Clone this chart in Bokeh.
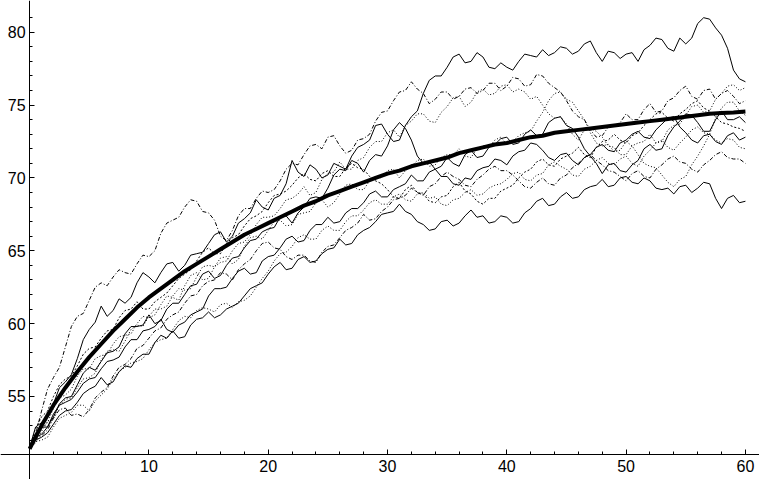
from bokeh.plotting import figure
from bokeh.models import Range1d, LinearAxis, FixedTicker
from bokeh.embed import file_html
from bokeh.resources import INLINE

# ---------------- data ----------------
# values at whole time steps 0..60 and at the half steps 0.5..59.5
time_whole = list(range(0, 61))
time_half = [i + 0.5 for i in range(0, 60)]

x_major_ticks = [10, 20, 30, 40, 50, 60]
x_minor_ticks = [2, 4, 6, 8, 12, 14, 16, 18, 22, 24, 26, 28, 32, 34, 36, 38,
                 42, 44, 46, 48, 52, 54, 56, 58]
y_major_ticks = [55, 60, 65, 70, 75, 80]
y_minor_ticks = [51, 52, 53, 54, 56, 57, 58, 59, 61, 62, 63, 64, 66, 67, 68, 69,
                 71, 72, 73, 74, 76, 77, 78, 79, 81]

mean_path = [
    51.4, 53.0, 54.4, 55.6, 56.7, 57.7, 58.6, 59.5, 60.3, 61.1,
    61.8, 62.4, 63.0, 63.6, 64.1, 64.6, 65.1, 65.6, 66.1, 66.5,
    66.9, 67.3, 67.7, 68.1, 68.4, 68.8, 69.1, 69.4, 69.7, 70.0,
    70.3, 70.5, 70.8, 71.0, 71.2, 71.4, 71.7, 71.9, 72.1, 72.3,
    72.4, 72.6, 72.8, 72.9, 73.1, 73.2, 73.3, 73.4, 73.5, 73.6,
    73.7, 73.8, 73.9, 74.0, 74.1, 74.2, 74.3, 74.4, 74.45, 74.5,
    74.56]

path_1 = [
    51.5, 53.2, 54.5, 56.0, 57.6, 59.6, 61.2, 60.9, 61.4, 62.8,
    63.2, 63.5, 64.2, 64.0, 64.8, 65.5, 66.3, 66.0, 67.2, 68.5,
    67.8, 68.8, 71.2, 70.1, 70.6, 70.2, 70.8, 71.5, 72.3, 73.6,
    73.0, 72.6, 74.2, 75.8, 77.0, 77.6, 78.5, 78.0, 78.3, 77.5,
    77.6, 78.0, 78.4, 78.8, 78.6, 78.9, 78.7, 79.4, 78.0, 78.6,
    78.5, 78.0, 79.1, 79.5, 78.7, 79.2, 80.6, 80.9, 79.8, 77.4,
    76.6]
path_1_half = [
    52.9, 53.6, 55.6, 56.5, 58.9, 60.1, 60.5, 61.7, 61.8, 63.5,
    62.8, 64.1, 63.6, 64.7, 64.9, 66.1, 65.6, 66.9, 67.6, 68.0,
    68.6, 69.6, 70.4, 70.9, 70.0, 71.0, 70.6, 72.1, 72.6, 73.7,
    72.5, 73.6, 74.6, 76.7, 77.0, 78.3, 77.9, 78.6, 77.6, 77.9,
    77.4, 78.5, 78.3, 78.4, 79.0, 78.5, 79.2, 78.6, 78.7, 78.2,
    78.6, 78.8, 79.6, 78.9, 79.6, 79.6, 81.0, 80.3, 78.9, 76.8]

path_2 = [
    51.5, 54.0, 56.3, 58.4, 60.5, 61.6, 62.8, 63.2, 63.5, 64.1,
    64.6, 66.2, 67.1, 68.0, 68.4, 67.6, 66.0, 66.4, 67.9, 68.6,
    69.0, 69.8, 71.0, 71.6, 72.3, 72.8, 72.2, 71.9, 72.7, 73.9,
    74.6, 75.9, 76.6, 75.8, 75.4, 75.9, 75.6, 76.2, 76.0, 76.5,
    76.3, 76.8, 76.4, 77.0, 76.2, 75.3, 74.2, 73.3, 72.9, 73.6,
    74.4, 74.0, 75.1, 74.6, 75.5, 76.3, 75.4, 76.1, 75.8, 75.6,
    75.3]
path_2_half = [
    52.4, 55.5, 57.0, 59.8, 60.7, 62.5, 62.6, 63.7, 63.4, 64.7,
    65.0, 66.9, 67.3, 68.5, 67.7, 67.1, 65.7, 67.4, 67.9, 69.1,
    69.2, 70.6, 70.9, 72.2, 72.0, 72.9, 71.7, 72.6, 73.0, 74.5,
    75.3, 76.0, 76.1, 75.1, 75.9, 75.4, 76.1, 75.8, 76.5, 76.0,
    76.9, 76.3, 77.1, 76.5, 75.9, 74.6, 74.0, 72.8, 73.5, 73.8,
    74.0, 74.7, 74.5, 75.3, 76.0, 75.6, 76.0, 75.4, 76.0, 75.1]

path_3 = [
    51.5, 52.8, 54.2, 55.1, 56.4, 56.9, 57.8, 58.6, 59.2, 60.0,
    60.4, 61.3, 61.8, 62.6, 63.5, 63.1, 64.2, 65.0, 65.6, 66.8,
    67.3, 67.9, 68.6, 69.4, 69.0, 70.3, 71.1, 70.6, 71.4, 72.5,
    73.1, 72.8, 73.9, 74.4, 73.8, 74.9, 75.6, 75.2, 76.1, 75.8,
    76.4, 76.1, 75.4, 75.0, 74.1, 73.7, 72.6, 73.4, 72.8, 72.1,
    71.6, 72.4, 73.0, 72.5, 73.6, 74.3, 75.0, 74.6, 75.8, 76.4,
    76.2]
path_3_half = [
    52.4, 53.2, 54.9, 55.5, 56.9, 57.6, 57.9, 59.1, 59.3, 60.5,
    60.6, 61.9, 61.6, 63.3, 63.0, 63.9, 64.3, 65.5, 66.1, 67.3,
    67.4, 68.5, 68.9, 68.8, 69.9, 70.4, 70.6, 71.2, 72.1, 72.5,
    73.3, 73.6, 74.4, 73.9, 74.5, 75.5, 74.9, 75.9, 75.7, 76.3,
    75.9, 75.9, 75.6, 74.4, 74.2, 73.0, 73.3, 73.2, 72.2, 71.6,
    72.2, 72.5, 72.4, 73.3, 73.7, 74.9, 74.5, 75.4, 76.3, 76.0]

path_4 = [
    51.5, 52.6, 53.5, 54.8, 55.6, 56.3, 57.5, 58.2, 58.8, 59.9,
    60.5, 61.0, 61.9, 62.3, 63.2, 64.0, 64.5, 64.1, 65.3, 66.0,
    66.4, 67.1, 66.8, 67.6, 68.3, 68.0, 68.9, 69.6, 69.2, 70.1,
    70.5, 70.0, 70.8, 71.3, 70.9, 71.6, 72.0, 71.4, 72.2, 72.6,
    72.3, 72.9, 73.2, 74.5, 75.8, 75.4, 74.6, 73.1, 72.2, 71.8,
    72.5, 71.6, 70.8, 70.2, 69.4, 70.1, 71.5, 73.0, 74.8, 75.2,
    74.3]
path_4_half = [
    51.8, 53.3, 54.4, 54.9, 56.2, 56.6, 58.1, 58.1, 59.6, 59.8,
    61.0, 61.2, 62.4, 62.4, 63.9, 63.9, 64.6, 64.4, 65.9, 65.8,
    67.0, 66.7, 67.5, 67.7, 68.5, 68.3, 69.5, 69.2, 69.8, 70.0,
    70.6, 70.5, 71.2, 70.8, 71.4, 71.6, 71.5, 72.0, 72.1, 72.8,
    72.5, 73.1, 73.9, 75.3, 75.9, 75.2, 74.0, 72.4, 72.3, 71.9,
    72.2, 71.0, 70.7, 69.7, 69.9, 70.9, 72.2, 74.1, 75.2, 74.6]

path_5 = [
    51.5, 52.9, 53.6, 54.9, 55.8, 57.0, 57.4, 58.1, 59.3, 59.8,
    60.6, 60.2, 61.4, 62.0, 62.7, 63.6, 63.3, 64.5, 65.2, 65.8,
    66.5, 67.3, 66.9, 68.0, 68.7, 69.3, 70.6, 71.2, 70.4, 71.6,
    72.2, 73.8, 72.6, 71.0, 70.6, 71.4, 70.8, 71.9, 71.5, 72.3,
    72.8, 72.4, 73.3, 73.0, 74.1, 73.6, 72.8, 71.5, 70.3, 71.0,
    70.4, 71.2, 72.3, 72.0, 73.5, 74.4, 73.8, 73.2, 74.6, 74.0,
    73.8]
path_5_half = [
    52.5, 52.9, 54.5, 55.0, 56.6, 56.8, 58.0, 58.4, 59.8, 59.9,
    60.0, 61.0, 61.4, 62.6, 63.4, 63.1, 64.0, 64.6, 65.7, 66.3,
    66.6, 67.4, 67.6, 68.6, 68.6, 70.2, 70.5, 71.0, 71.2, 71.5,
    73.3, 73.4, 71.5, 71.1, 70.8, 71.0, 71.6, 71.4, 72.1, 72.7,
    72.3, 73.0, 72.9, 73.8, 74.2, 73.4, 72.0, 71.0, 70.9, 70.5,
    70.9, 72.0, 71.9, 72.9, 73.9, 74.3, 73.2, 74.0, 74.0, 74.2]

path_6 = [
    51.5, 52.4, 53.8, 54.6, 55.3, 56.2, 56.9, 57.5, 58.4, 58.9,
    59.6, 60.3, 59.4, 60.1, 60.8, 61.9, 62.4, 63.1, 63.8, 63.5,
    64.6, 65.2, 66.0, 65.7, 66.8, 67.3, 67.0, 67.9, 68.3, 69.1,
    68.7, 69.4, 70.2, 69.8, 70.6, 70.1, 69.5, 69.9, 70.7, 71.3,
    70.9, 71.8, 72.4, 71.9, 71.2, 71.7, 70.9, 71.6, 72.3, 71.8,
    72.6, 73.2, 72.7, 73.7, 74.2, 73.1, 72.4, 73.0, 72.3, 73.1,
    72.8]
path_6_half = [
    52.2, 52.9, 54.4, 54.8, 55.9, 56.3, 57.4, 57.7, 58.9, 59.5,
    59.8, 59.6, 59.9, 60.6, 61.0, 62.4, 62.5, 63.6, 63.4, 64.3,
    64.7, 65.8, 65.6, 66.4, 66.8, 66.9, 67.6, 67.9, 68.9, 68.7,
    69.2, 69.6, 69.8, 70.4, 70.1, 69.6, 70.0, 70.5, 70.8, 71.2,
    71.5, 71.9, 72.3, 71.4, 71.6, 71.2, 71.4, 72.1, 71.9, 72.4,
    73.0, 72.8, 73.3, 74.1, 73.5, 72.6, 72.9, 72.5, 72.9, 72.6]

path_7 = [
    51.5, 52.2, 53.1, 54.0, 54.6, 55.5, 56.3, 56.0, 57.1, 57.6,
    57.9, 59.2, 59.5, 59.1, 60.3, 60.8, 60.6, 61.2, 61.9, 62.6,
    63.4, 64.2, 63.8, 64.6, 64.3, 65.1, 65.8, 65.5, 66.4, 67.0,
    67.6, 68.2, 67.5, 66.8, 66.5, 67.1, 66.9, 67.8, 67.4, 67.0,
    67.3, 67.0, 67.9, 68.6, 68.2, 69.0, 68.7, 69.4, 69.9, 69.5,
    70.1, 69.6, 69.8, 69.2, 68.9, 69.5, 69.3, 69.6, 67.9, 68.8,
    68.4]
path_7_half = [
    52.0, 52.5, 53.7, 54.1, 55.2, 55.7, 55.8, 56.7, 57.0, 57.9,
    58.7, 59.0, 59.0, 59.9, 60.4, 60.4, 61.0, 61.4, 62.4, 62.8,
    63.9, 63.7, 64.4, 64.2, 64.8, 65.2, 65.4, 66.1, 66.6, 67.5,
    67.7, 67.7, 67.0, 66.4, 67.0, 66.7, 67.4, 67.3, 66.9, 67.4,
    66.9, 67.6, 68.4, 68.1, 68.7, 68.6, 69.2, 69.5, 69.4, 70.0,
    69.7, 70.0, 69.3, 69.3, 69.4, 69.0, 69.7, 68.6, 68.6, 68.3]

path_8 = [
    51.5, 52.0, 52.9, 53.7, 54.4, 54.0, 55.1, 56.2, 57.0, 57.4,
    58.2, 58.9, 59.6, 60.5, 60.9, 61.0, 61.3, 61.1, 61.6, 62.5,
    63.6, 64.8, 65.3, 66.1, 65.8, 66.7, 66.4, 67.4, 67.8, 68.5,
    68.2, 68.9, 68.4, 69.0, 68.7, 68.1, 68.6, 69.2, 68.9, 69.5,
    69.9, 70.4, 69.8, 70.3, 71.1, 70.6, 70.1, 70.8, 71.4, 70.9,
    71.5, 70.8, 71.9, 72.6, 71.9, 72.8, 73.5, 73.0, 72.4, 72.6,
    72.0]
path_8_half = [
    51.9, 52.2, 53.5, 53.9, 54.4, 54.7, 55.5, 56.7, 57.3, 57.6,
    58.7, 59.0, 60.2, 60.4, 61.1, 60.8, 61.4, 61.5, 61.9, 63.1,
    64.3, 64.9, 65.9, 65.8, 66.4, 66.4, 67.0, 67.4, 68.3, 68.2,
    68.7, 68.5, 68.9, 68.6, 68.2, 68.5, 69.0, 68.8, 69.3, 69.6,
    70.3, 69.9, 70.2, 70.9, 70.8, 70.2, 70.6, 71.2, 71.0, 71.3,
    71.0, 71.5, 72.4, 72.1, 72.4, 73.3, 73.1, 72.6, 72.7, 72.1]

path_9 = [
    51.5, 52.3, 53.5, 54.2, 53.8, 54.1, 55.3, 56.4, 57.2, 58.3,
    59.0, 59.7, 60.6, 61.4, 62.0, 62.9, 63.5, 63.0, 64.1, 65.0,
    65.6, 65.1, 64.4, 64.7, 64.2, 65.3, 65.9, 66.6, 67.5, 67.2,
    68.0, 68.6, 69.3, 68.8, 69.6, 70.4, 69.9, 69.4, 70.2, 70.8,
    70.5, 69.8, 69.3, 70.0, 69.5, 70.2, 71.0, 71.6, 70.9, 70.4,
    69.8, 70.5, 70.0, 70.9, 71.5, 71.0, 70.4, 71.2, 71.8, 71.3,
    71.0]
path_9_half = [
    52.1, 52.7, 54.1, 53.7, 53.6, 54.9, 55.6, 57.0, 57.6, 58.5,
    59.5, 60.3, 60.8, 61.9, 62.6, 63.0, 63.4, 63.7, 64.4, 65.5,
    65.2, 64.6, 64.7, 64.3, 64.9, 65.4, 66.4, 66.9, 67.1, 67.7,
    68.5, 68.8, 69.0, 69.4, 70.1, 70.1, 69.5, 69.9, 70.6, 70.5,
    70.2, 69.4, 69.7, 69.6, 70.0, 70.7, 71.4, 71.2, 70.5, 70.1,
    70.3, 70.1, 70.6, 71.3, 71.1, 70.6, 70.9, 71.6, 71.4, 71.3]

path_10 = [
    51.5, 53.6, 55.0, 56.2, 57.1, 58.3, 59.0, 59.6, 60.9, 61.5,
    61.0, 61.8, 62.6, 63.4, 64.3, 65.2, 64.8, 65.9, 66.7, 67.4,
    68.3, 68.9, 69.5, 70.3, 69.8, 70.5, 70.1, 71.0, 70.6, 69.8,
    69.2, 68.6, 69.5, 68.9, 68.3, 68.8, 69.7, 68.9, 68.2, 68.6,
    69.3, 70.0, 70.6, 71.3, 70.8, 71.5, 72.1, 71.4, 72.5, 73.0,
    72.4, 73.1, 74.0, 74.5, 73.9, 74.7, 75.3, 74.6, 73.8, 73.5,
    73.2]
path_10_half = [
    52.8, 54.0, 55.8, 56.4, 57.9, 58.4, 59.5, 60.4, 61.0, 61.0,
    61.5, 62.1, 63.1, 63.7, 64.9, 64.8, 65.5, 66.1, 67.2, 67.7,
    68.8, 69.1, 70.0, 69.9, 70.3, 70.1, 70.7, 70.7, 70.1, 69.6,
    68.7, 69.2, 69.0, 68.4, 68.7, 69.4, 69.1, 68.4, 68.6, 69.1,
    69.5, 70.4, 71.1, 70.9, 71.3, 71.7, 71.6, 72.1, 72.6, 72.6,
    72.9, 73.6, 74.4, 74.1, 74.4, 75.1, 74.8, 74.2, 73.7, 73.4]

# ---------------- drawing ----------------
def merge(whole, half):
    xs, ys = [], []
    for i in range(len(half)):
        xs += [time_whole[i], time_half[i]]
        ys += [whole[i], half[i]]
    xs.append(time_whole[-1])
    ys.append(whole[-1])
    return xs, ys

path_styles = [
    (path_1, path_1_half, "solid"), (path_2, path_2_half, "4 2 1 2"),
    (path_3, path_3_half, "1 2"), (path_4, path_4_half, "1 2"),
    (path_5, path_5_half, "solid"), (path_6, path_6_half, "solid"),
    (path_7, path_7_half, "solid"), (path_8, path_8_half, "1 2"),
    (path_9, path_9_half, "4 2 1 2"), (path_10, path_10_half, "2 2"),
]

p = figure(width=759, height=479, output_backend="svg", toolbar_location=None,
           x_range=Range1d(-2.44, 61.18), y_range=Range1d(49.30, 82.18),
           x_axis_type=None, y_axis_type=None,
           min_border_left=0, min_border_right=0, min_border_top=0, min_border_bottom=0)
p.outline_line_color = None
p.background_fill_color = "white"
p.border_fill_color = "white"

for whole, half, dash in path_styles:
    xs, ys = merge(whole, half)
    p.line(xs, ys, line_color="black", line_width=1, line_dash=dash)

p.line(time_whole, mean_path, line_color="black", line_width=4)

xaxis = LinearAxis(fixed_location=51.0,
                   ticker=FixedTicker(ticks=x_major_ticks, minor_ticks=x_minor_ticks))
yaxis = LinearAxis(fixed_location=0,
                   ticker=FixedTicker(ticks=y_major_ticks, minor_ticks=y_minor_ticks))
for ax in (xaxis, yaxis):
    ax.axis_line_color = "black"
    ax.axis_line_width = 1
    ax.major_tick_in = 5
    ax.major_tick_out = 0
    ax.minor_tick_in = 3
    ax.minor_tick_out = 0
    ax.major_tick_line_color = "black"
    ax.minor_tick_line_color = "black"
    ax.major_label_text_font = "Liberation Sans"
    ax.major_label_text_font_size = "16px"
    ax.major_label_text_color = "black"
xaxis.major_label_standoff = 5
yaxis.major_label_standoff = 4
p.add_layout(xaxis, "below")
p.add_layout(yaxis, "left")

open("out.html", "w").write(file_html(p, INLINE))
